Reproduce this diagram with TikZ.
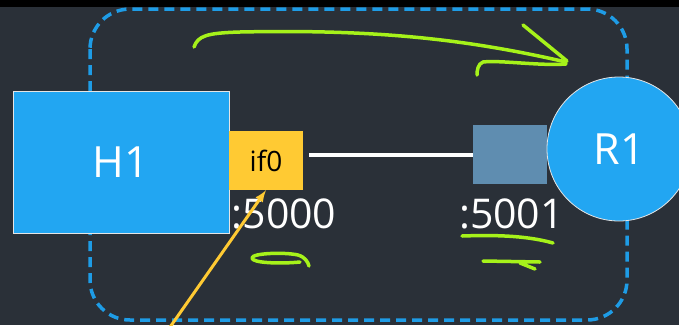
\documentclass[tikz,border=0pt]{standalone}
\usepackage{fontspec}
\setmainfont{Open Sans}
\definecolor{slate}{HTML}{2A3038}
\definecolor{hostblue}{HTML}{22A6F2}
\definecolor{lanblue}{HTML}{1E9CE6}
\definecolor{ifyellow}{HTML}{FFCA33}
\definecolor{portgray}{HTML}{5F8DB0}
\definecolor{ink}{HTML}{A6F21A}
\begin{document}
\begin{tikzpicture}[x=1pt,y=-1pt,
big/.style={font=\fontsize{43}{50}\selectfont},
host/.style={big,draw=white!90!black,line width=0.8pt,fill=hostblue,text=white,minimum width=216pt,minimum height=142pt},
iface/.style={fill=ifyellow,minimum width=74pt,minimum height=59pt,font=\fontsize{28}{32}\selectfont},
port/.style={fill=portgray,minimum width=74pt,minimum height=59pt},
router/.style={big,circle,draw=white!90!black,line width=0.8pt,fill=hostblue,text=white,minimum size=144pt},
addr/.style={font=\fontsize{41}{48}\selectfont,text=white,anchor=base,inner sep=0pt},
scribble/.style={draw=ink,line width=3.5pt,line cap=round,line join=round}]
\useasboundingbox (0,0) rectangle (679,325);
\fill[slate] (0,0) rectangle (679,325);
\fill[black] (0,0) rectangle (679,7);
%\draw[help lines,step=20pt] (0,0) grid (679,325);
\draw[lanblue,line width=3.5pt,dash pattern=on 10pt off 6pt,rounded corners=40pt] (90,9) rectangle (627,320);
\node (h1) at (121,162) [host] {H1};
\node (if0) at (266,160.5) [iface] {if0};
\node (p5001) at (510,154.5) [port] {};
\node (r1) at (619,149) [router] {R1};
\node (a5000) at (284,228) [addr] {:5000};
\node (a5001) at (511.5,228) [addr] {:5001};
\draw[white,line width=4pt,shorten <=6pt] (p5001.west -| if0.east) -- (p5001.west);
\coordinate (pen) at (168,330);
\draw[-latex,ifyellow,line width=3pt] (pen) -- (if0.south);
% hand drawn marks
\draw[scribble] (194,47) .. controls (198,36) and (206,33) .. (240,32)
  .. controls (380,29) and (470,40) .. (566,62);
\draw[scribble] (523,25) -- (567,61);
\draw[scribble] (566,64) .. controls (540,66) and (500,60) .. (483,62) .. controls (478,64) and (477,70) .. (477,75);
\draw[scribble] (462,236) .. controls (490,235) and (525,235) .. (553,243);
\draw[scribble] (483,261) -- (540,262) (520,263) -- (535,269);
\draw[scribble] (300,262) .. controls (280,264) and (252,263) .. (252,258)
  .. controls (252,253) and (285,252) .. (298,255) .. controls (305,257) and (308,262) .. (309,266);
\end{tikzpicture}
\end{document}
